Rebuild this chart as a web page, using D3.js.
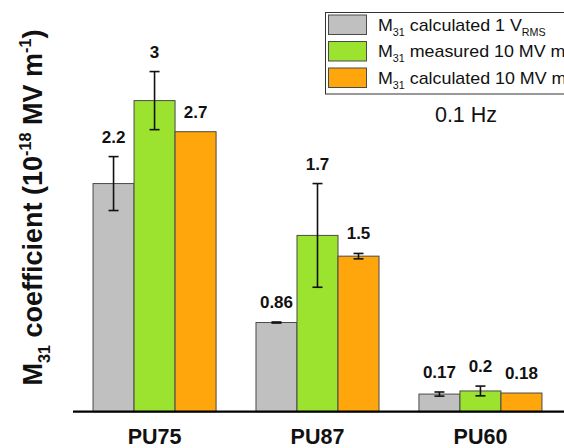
<!DOCTYPE html>
<html>
<head>
<meta charset="utf-8">
<script src="https://cdn.jsdelivr.net/npm/d3@7"></script>
<style>
  html, body { margin: 0; padding: 0; background: #fff; }
  svg { display: block; font-family: "Liberation Sans", Arial, sans-serif; }
</style>
</head>
<body>
<svg id="chart" width="564" height="448"></svg>
<script>
// ---- data ----
const categories = ["PU75", "PU87", "PU60"];
const seriesKeys = ["calc1", "meas10", "calc10"];
const calc1Values = [2.2, 0.86, 0.17];
const calc1Errors = [0.26, 0.005, 0.02];
const meas10Values = [3.0, 1.7, 0.2];
const meas10Errors = [0.28, 0.5, 0.047];
const calc10Values = [2.7, 1.5, 0.18];
const calc10Errors = [0, 0.026, 0];
const valueLabels = [["2.2", "3", "2.7"], ["0.86", "1.7", "1.5"], ["0.17", "0.2", "0.18"]];
const seriesColors = ["#c0c0c0", "#9be32f", "#ffa60d"];
const legendParts = [
  [["M", ""], ["31", "sub"], [" calculated 1 V", ""], ["RMS", "sub"]],
  [["M", ""], ["31", "sub"], [" measured 10 MV m", ""], ["-1", "sup"]],
  [["M", ""], ["31", "sub"], [" calculated 10 MV m", ""], ["-1", "sup"]]
];
const yDomain = [0, 3];

const values = [calc1Values, meas10Values, calc10Values];
const errors = [calc1Errors, meas10Errors, calc10Errors];

const svg = d3.select("#chart");
const baseline = 411.7;

const y = d3.scaleLinear().domain(yDomain).range([baseline, baseline - 3 * 103.7]);
const x0 = d3.scaleBand().domain(categories).range([73, 562]).paddingInner(0.245).paddingOuter(0.123);
const x1 = d3.scaleBand().domain(seriesKeys).range([0, x0.bandwidth()]);

const rows = [];
categories.forEach((c, i) => {
  seriesKeys.forEach((k, j) => {
    rows.push({cat: c, key: k, si: j, v: values[j][i], e: errors[j][i], label: valueLabels[i][j]});
  });
});

// bars
svg.append("g").selectAll("rect").data(rows).join("rect")
  .attr("x", d => x0(d.cat) + x1(d.key))
  .attr("y", d => y(d.v))
  .attr("width", x1.bandwidth())
  .attr("height", d => y(0) - y(d.v))
  .attr("fill", d => seriesColors[d.si])
  .attr("stroke", "#4a4a4a")
  .attr("stroke-width", 1);

// error bars
const eg = svg.append("g").attr("stroke", "#111").attr("stroke-width", 1.6);
rows.filter(d => d.e > 0).forEach(d => {
  const cx = x0(d.cat) + x1(d.key) + x1.bandwidth() / 2;
  const top = y(d.v + d.e), bot = y(d.v - d.e);
  eg.append("line").attr("x1", cx).attr("x2", cx).attr("y1", top).attr("y2", bot);
  eg.append("line").attr("x1", cx - 5).attr("x2", cx + 5).attr("y1", top).attr("y2", top);
  eg.append("line").attr("x1", cx - 5).attr("x2", cx + 5).attr("y1", bot).attr("y2", bot);
});

// value labels
svg.append("g").selectAll("text").data(rows).join("text")
  .attr("x", d => x0(d.cat) + x1(d.key) + x1.bandwidth() / 2)
  .attr("y", d => y(d.v + d.e) - 14)
  .attr("text-anchor", "middle")
  .attr("font-size", 17)
  .attr("font-weight", "bold")
  .attr("fill", "#111")
  .text(d => d.label);

// baseline axis
const xAxis = d3.axisBottom(x0).tickSize(0).tickPadding(17);
const ag = svg.append("g").attr("transform", `translate(0,${baseline})`).call(xAxis);
ag.select(".domain").remove();
ag.append("line").attr("x1", 73).attr("x2", 564).attr("y1", 0).attr("y2", 0)
  .attr("stroke", "#000").attr("stroke-width", 2.2);
ag.selectAll(".tick text")
  .attr("font-size", 21.5).attr("font-weight", "bold").attr("fill", "#111")
  .attr("font-family", "'Liberation Sans', Arial, sans-serif");

// y title
const yt = svg.append("text")
  .attr("transform", "translate(42,207.5) rotate(-90)")
  .attr("text-anchor", "middle")
  .attr("font-size", 27).attr("font-weight", "bold").attr("fill", "#111");
const yParts = [["M", ""], ["31", "sub"], [" coefficient (10", ""], ["-18", "sup"], [" MV m", ""], ["-1", "sup"], [")", ""]];
function addParts(textSel, parts, size) {
  let shift = 0;
  parts.forEach(([t, kind]) => {
    let target = kind === "sub" ? size * 0.3 : kind === "sup" ? -size * 0.4 : 0;
    textSel.append("tspan")
      .attr("dy", target - shift)
      .attr("font-size", kind ? size * 0.6 : size)
      .text(t);
    shift = target;
  });
}
addParts(yt, yParts, 27);

// legend
const lg = svg.append("g");
lg.append("rect").attr("x", 325.5).attr("y", 12.5).attr("width", 260).attr("height", 81.5)
  .attr("fill", "#fff").attr("stroke", "#333").attr("stroke-width", 1);
legendParts.forEach((parts, i) => {
  const ry = 15 + i * 26.5;
  lg.append("rect").attr("x", 328.5).attr("y", ry).attr("width", 38).attr("height", 19.5)
    .attr("fill", seriesColors[i]).attr("stroke", "#4a4a4a").attr("stroke-width", 1);
  const t = lg.append("text").attr("x", 0).attr("y", 0)
    .attr("transform", `translate(378,${ry + 15.5}) scale(1.05,1)`)
    .attr("font-size", 17).attr("fill", "#111");
  addParts(t, parts, 17);
});

// frequency note
svg.append("text").attr("x", 466).attr("y", 121.5)
  .attr("text-anchor", "middle").attr("font-size", 21.5).attr("fill", "#111")
  .text("0.1 Hz");
</script>
</body>
</html>
